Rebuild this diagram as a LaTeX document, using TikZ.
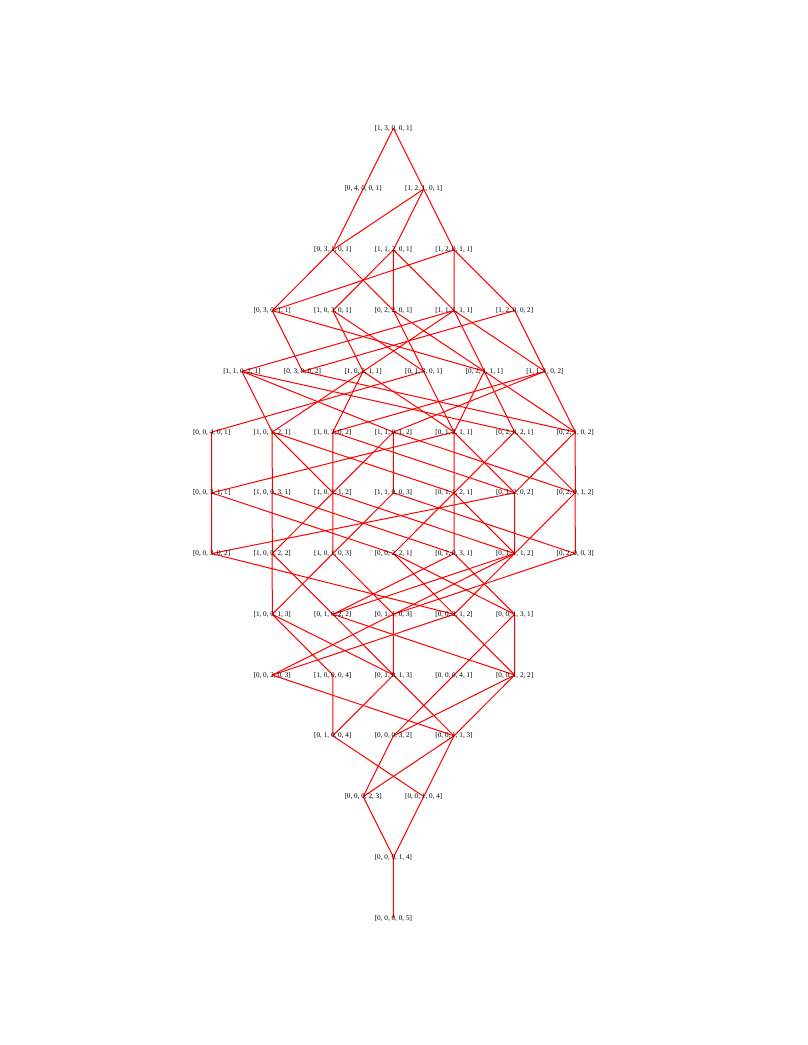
\documentclass[tikz,border=0pt]{standalone}
\usepackage{fontspec}
\setmainfont{Liberation Serif}
\usetikzlibrary{backgrounds}
\tikzset{
  lbl/.style={inner sep=0pt, text=black, font=\fontsize{7.2}{8}\selectfont},
  edge/.style={draw={rgb,255:red,255;green,0;blue,0}, line width=1pt}
}
\newcommand{\nd}[4]{\node[lbl] (n#1) at ({393.4+30.3*(#2)},{-(128.3+60.75*((#3)-1))}) {[#4]};}
\begin{document}
\begin{tikzpicture}[x=1pt,y=1pt]
\useasboundingbox (0,0) rectangle (808,-1045);
% row 1
\nd{13001}{0}{1}{1, 3, 0, 0, 1}
% row 2
\nd{04001}{-1}{2}{0, 4, 0, 0, 1}
\nd{12101}{1}{2}{1, 2, 1, 0, 1}
% row 3
\nd{03101}{-2}{3}{0, 3, 1, 0, 1}
\nd{11201}{0}{3}{1, 1, 2, 0, 1}
\nd{12011}{2}{3}{1, 2, 0, 1, 1}
% row 4
\nd{03011}{-4}{4}{0, 3, 0, 1, 1}
\nd{10301}{-2}{4}{1, 0, 3, 0, 1}
\nd{02201}{0}{4}{0, 2, 2, 0, 1}
\nd{11111}{2}{4}{1, 1, 1, 1, 1}
\nd{12002}{4}{4}{1, 2, 0, 0, 2}
% row 5
\nd{11021}{-5}{5}{1, 1, 0, 2, 1}
\nd{03002}{-3}{5}{0, 3, 0, 0, 2}
\nd{10211}{-1}{5}{1, 0, 2, 1, 1}
\nd{01301}{1}{5}{0, 1, 3, 0, 1}
\nd{02111}{3}{5}{0, 2, 1, 1, 1}
\nd{11102}{5}{5}{1, 1, 1, 0, 2}
% row 6
\nd{00401}{-6}{6}{0, 0, 4, 0, 1}
\nd{10121}{-4}{6}{1, 0, 1, 2, 1}
\nd{10202}{-2}{6}{1, 0, 2, 0, 2}
\nd{11012}{0}{6}{1, 1, 0, 1, 2}
\nd{01211}{2}{6}{0, 1, 2, 1, 1}
\nd{02021}{4}{6}{0, 2, 0, 2, 1}
\nd{02102}{6}{6}{0, 2, 1, 0, 2}
% row 7
\nd{00311}{-6}{7}{0, 0, 3, 1, 1}
\nd{10031}{-4}{7}{1, 0, 0, 3, 1}
\nd{10112}{-2}{7}{1, 0, 1, 1, 2}
\nd{11003}{0}{7}{1, 1, 0, 0, 3}
\nd{01121}{2}{7}{0, 1, 1, 2, 1}
\nd{01202}{4}{7}{0, 1, 2, 0, 2}
\nd{02012}{6}{7}{0, 2, 0, 1, 2}
% row 8
\nd{00302}{-6}{8}{0, 0, 3, 0, 2}
\nd{10022}{-4}{8}{1, 0, 0, 2, 2}
\nd{10103}{-2}{8}{1, 0, 1, 0, 3}
\nd{00221}{0}{8}{0, 0, 2, 2, 1}
\nd{01031}{2}{8}{0, 1, 0, 3, 1}
\nd{01112}{4}{8}{0, 1, 1, 1, 2}
\nd{02003}{6}{8}{0, 2, 0, 0, 3}
% row 9
\nd{10013}{-4}{9}{1, 0, 0, 1, 3}
\nd{01022}{-2}{9}{0, 1, 0, 2, 2}
\nd{01103}{0}{9}{0, 1, 1, 0, 3}
\nd{00212}{2}{9}{0, 0, 2, 1, 2}
\nd{00131}{4}{9}{0, 0, 1, 3, 1}
% row 10
\nd{00203}{-4}{10}{0, 0, 2, 0, 3}
\nd{10004}{-2}{10}{1, 0, 0, 0, 4}
\nd{01013}{0}{10}{0, 1, 0, 1, 3}
\nd{00041}{2}{10}{0, 0, 0, 4, 1}
\nd{00122}{4}{10}{0, 0, 1, 2, 2}
% row 11
\nd{01004}{-2}{11}{0, 1, 0, 0, 4}
\nd{00032}{0}{11}{0, 0, 0, 3, 2}
\nd{00113}{2}{11}{0, 0, 1, 1, 3}
% row 12
\nd{00023}{-1}{12}{0, 0, 0, 2, 3}
\nd{00104}{1}{12}{0, 0, 1, 0, 4}
% row 13
\nd{00014}{0}{13}{0, 0, 0, 1, 4}
% row 14
\nd{00005}{0}{14}{0, 0, 0, 0, 5}
\begin{pgfonlayer}{background}
\foreach \a/\b in {
13001/04001, 13001/12101,
04001/03101,
12101/03101, 12101/11201, 12101/12011,
03101/02201, 03101/03011,
11201/02201, 11201/10301, 11201/11111,
12011/03011, 12011/11111, 12011/12002,
03011/02111, 03011/03002,
10301/01301, 10301/10211,
02201/01301, 02201/02111,
11111/02111, 11111/10211, 11111/11021, 11111/11102,
12002/03002, 12002/11102,
11021/02021, 11021/10121, 11021/11012,
03002/02102,
10211/01211, 10211/10121, 10211/10202,
01301/00401, 01301/01211,
02111/01211, 02111/02021, 02111/02102,
11102/02102, 11102/10202, 11102/11012,
00401/00311,
10121/01121, 10121/10031, 10121/10112,
10202/01202, 10202/10112,
11012/02012, 11012/10112, 11012/11003,
01211/00311, 01211/01121, 01211/01202,
02021/01121, 02021/02012,
02102/01202, 02102/02012,
00311/00221, 00311/00302,
10031/01031, 10031/10022,
10112/01112, 10112/10022, 10112/10103,
11003/02003, 11003/10103,
01121/00221, 01121/01031, 01121/01112,
01202/00302, 01202/01112,
02012/01112, 02012/02003,
00302/00212,
10022/01022, 10022/10013,
10103/01103, 10103/10013,
00221/00131, 00221/00212,
01031/00131, 01031/01022,
01112/00212, 01112/01022, 01112/01103,
02003/01103,
10013/01013, 10013/10004,
01022/00122, 01022/01013,
01103/00203, 01103/01013,
00212/00122, 00212/00203,
00131/00041, 00131/00122,
00203/00113,
10004/01004,
01013/00113, 01013/01004,
00041/00032,
00122/00032, 00122/00113,
01004/00104,
00032/00023,
00113/00023, 00113/00104,
00023/00014,
00104/00014,
00014/00005}
  \draw[edge] (n\a.center) -- ([xshift=0.08pt]n\b.center);
\end{pgfonlayer}
\end{tikzpicture}
\end{document}
